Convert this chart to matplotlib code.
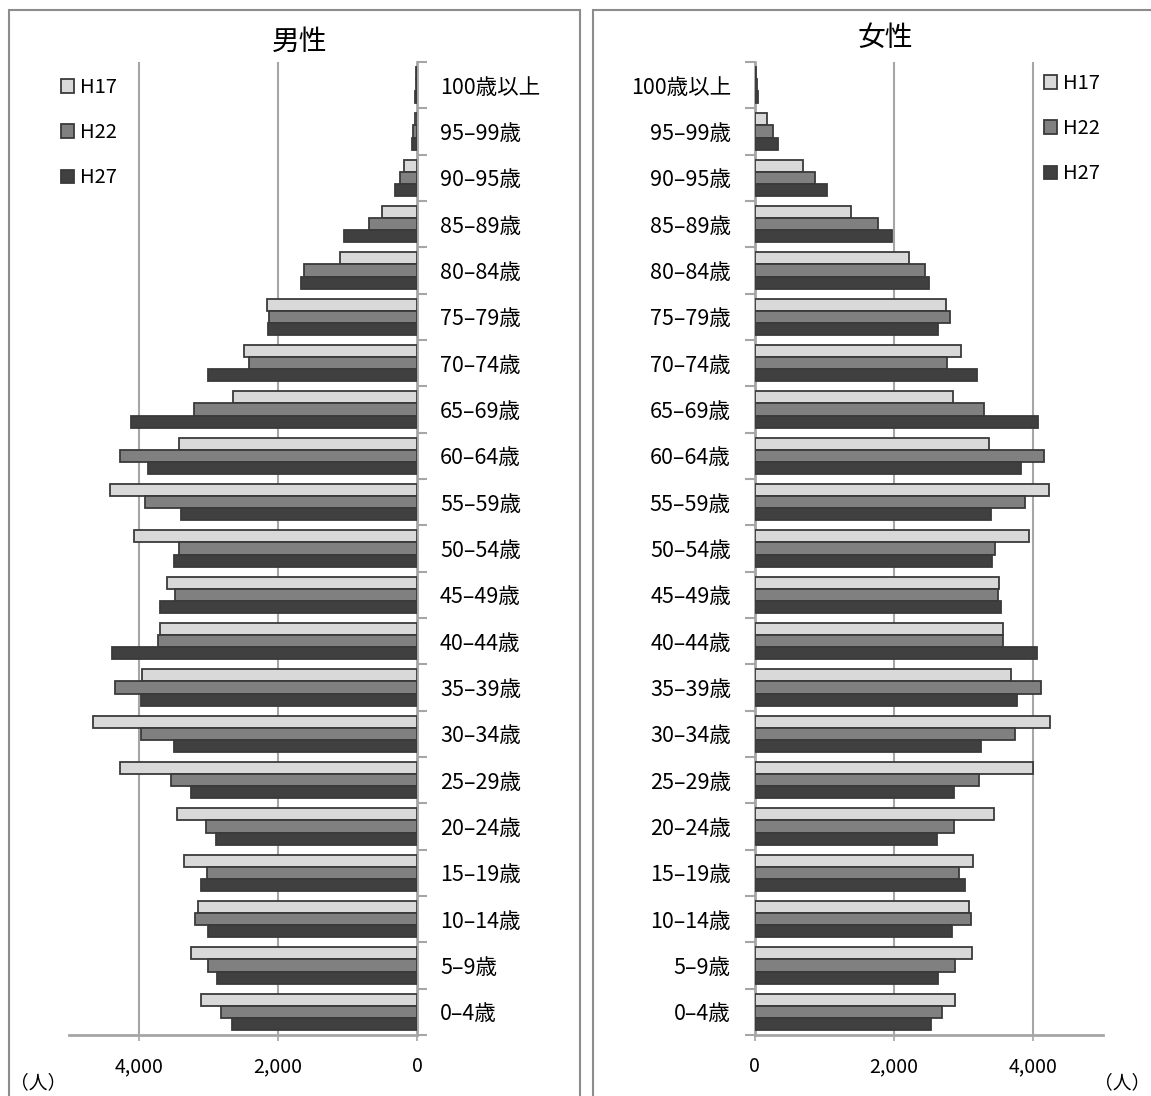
import numpy as np
import matplotlib
matplotlib.use('Agg')
import matplotlib.pyplot as plt
from matplotlib.patches import Rectangle, Patch

plt.rcParams['font.family'] = ['Noto Sans CJK JP', 'DejaVu Sans']

# DATA (top to bottom, as in the picture)

ages = ['100歳以上', '95–99歳', '90–95歳', '85–89歳', '80–84歳', '75–79歳',
        '70–74歳', '65–69歳', '60–64歳', '55–59歳', '50–54歳', '45–49歳',
        '40–44歳', '35–39歳', '30–34歳', '25–29歳', '20–24歳', '15–19歳',
        '10–14歳', '5–9歳', '0–4歳']

years = ['H17', 'H22', 'H27']

male_h17 = [15, 35, 186, 501, 1109, 2157, 2488, 2647, 3420, 4424, 4073,
            3597, 3694, 3958, 4659, 4280, 3458, 3357, 3146, 3247, 3108]
male_h22 = [18, 55, 240, 688, 1620, 2133, 2416, 3213, 4280, 3914, 3429,
            3477, 3732, 4352, 3977, 3535, 3036, 3021, 3189, 3012, 2824]
male_h27 = [22, 70, 314, 1045, 1674, 2142, 3012, 4111, 3871, 3396, 3492,
            3694, 4390, 3977, 3501, 3247, 2887, 3103, 3007, 2877, 2656]

female_h17 = [21, 173, 697, 1388, 2216, 2756, 2967, 2856, 3368, 4230, 3947,
              3517, 3565, 3684, 4239, 3995, 3445, 3144, 3086, 3120, 2885]
female_h22 = [37, 262, 864, 1771, 2446, 2804, 2761, 3292, 4163, 3890, 3455,
              3493, 3569, 4110, 3746, 3220, 2866, 2943, 3115, 2876, 2699]
female_h27 = [52, 335, 1048, 1975, 2514, 2636, 3191, 4077, 3828, 3392, 3411,
              3545, 4057, 3766, 3254, 2866, 2617, 3019, 2842, 2636, 2541]

x_ticks = [0, 2000, 4000]
x_ticklabels = ['0', '2,000', '4,000']

colors = ['#d9d9d9', '#808080', '#404040']
edge = '#3a3a3a'
grid_c = '#a6a6a6'

W, H = 1151, 1096
fig = plt.figure(figsize=(W / 100, H / 100), dpi=100)

# panel frames
for x0, x1 in [(9, 580), (593, 1160)]:
    fig.patches.append(Rectangle((x0 / W, -0.05), (x1 - x0) / W, 1.05 - 10 / H,
                                 transform=fig.transFigure, fill=False,
                                 edgecolor='#8c8c8c', linewidth=1.5))

n = len(ages)
y = np.arange(n)[::-1]          # 0-4 at bottom
bh = 0.26
offsets = [bh, 0, -bh]

ax_bottom = (H - 1035) / H
ax_height = 973 / H

ax_m = fig.add_axes([69.5 / W, ax_bottom, 347.5 / W, ax_height])
ax_f = fig.add_axes([754.5 / W, ax_bottom, 348 / W, ax_height])

for ax, series in [(ax_m, [male_h17, male_h22, male_h27]),
                   (ax_f, [female_h17, female_h22, female_h27])]:
    for vals, off, c, lab in zip(series, offsets, colors, years):
        ax.barh(y + off, vals, height=bh, color=c, edgecolor=edge,
                linewidth=1.3, label=lab, zorder=3)
    ax.set_xlim(0, 5000)
    ax.set_ylim(-0.5, n - 0.5)
    for g in [2000, 4000]:
        ax.axvline(g, color=grid_c, linewidth=1.5, zorder=1)
    ax.set_xticks(x_ticks)
    ax.set_xticklabels(x_ticklabels, fontsize=14)
    ax.tick_params(axis='x', length=4, width=1.2, color=grid_c, pad=11)
    ax.set_yticks(y)
    ax.set_yticklabels(ages, fontsize=15.5)
    ax.set_yticks(np.arange(-0.5, n, 1), minor=True)
    ax.tick_params(axis='y', which='major', length=0, pad=16.5)
    ax.tick_params(axis='y', which='minor', length=7, width=1.5,
                   color=grid_c, direction='out')
    ax.spines['top'].set_visible(False)
    ax.spines['bottom'].set_color(grid_c)
    ax.spines['bottom'].set_linewidth(2)
    ax.set_facecolor('none')

# male: reversed, axis on the right
ax_m.invert_xaxis()
ax_m.yaxis.tick_right()
ax_m.yaxis.set_label_position('right')
ax_m.spines['left'].set_visible(False)
ax_m.spines['right'].set_color(grid_c)
ax_m.spines['right'].set_linewidth(2)
ax_m.tick_params(axis='y', which='minor', right=True, left=False)

ax_f.spines['right'].set_visible(False)
ax_f.spines['left'].set_color(grid_c)
ax_f.spines['left'].set_linewidth(2)
ax_f.tick_params(axis='y', which='major', pad=17)

# TITLES
fig.text(300 / W, 1 - 42 / H, '男性', fontsize=20, ha='center', va='center')
fig.text(885 / W, 1 - 38 / H, '女性', fontsize=20, ha='center', va='center')

# LEGENDS
handles = [Patch(facecolor=c, edgecolor=edge, linewidth=1.3) for c in colors]
for xl, yt in [(61, 77), (1044, 73)]:
    fig.legend(handles, years, loc='upper left',
               bbox_to_anchor=(xl / W, 1 - yt / H), frameon=False,
               fontsize=14.5, handlelength=0.65, handleheight=0.65,
               handletextpad=0.3, labelspacing=1.2, borderpad=0,
               borderaxespad=0)

# UNITS
fig.text(10 / W, 1 - 1083 / H, '（人）', fontsize=13.5, ha='left', va='center')
fig.text(1150 / W, 1 - 1083 / H, '（人）', fontsize=13.5, ha='right', va='center')

plt.savefig('out.png', dpi=100)
